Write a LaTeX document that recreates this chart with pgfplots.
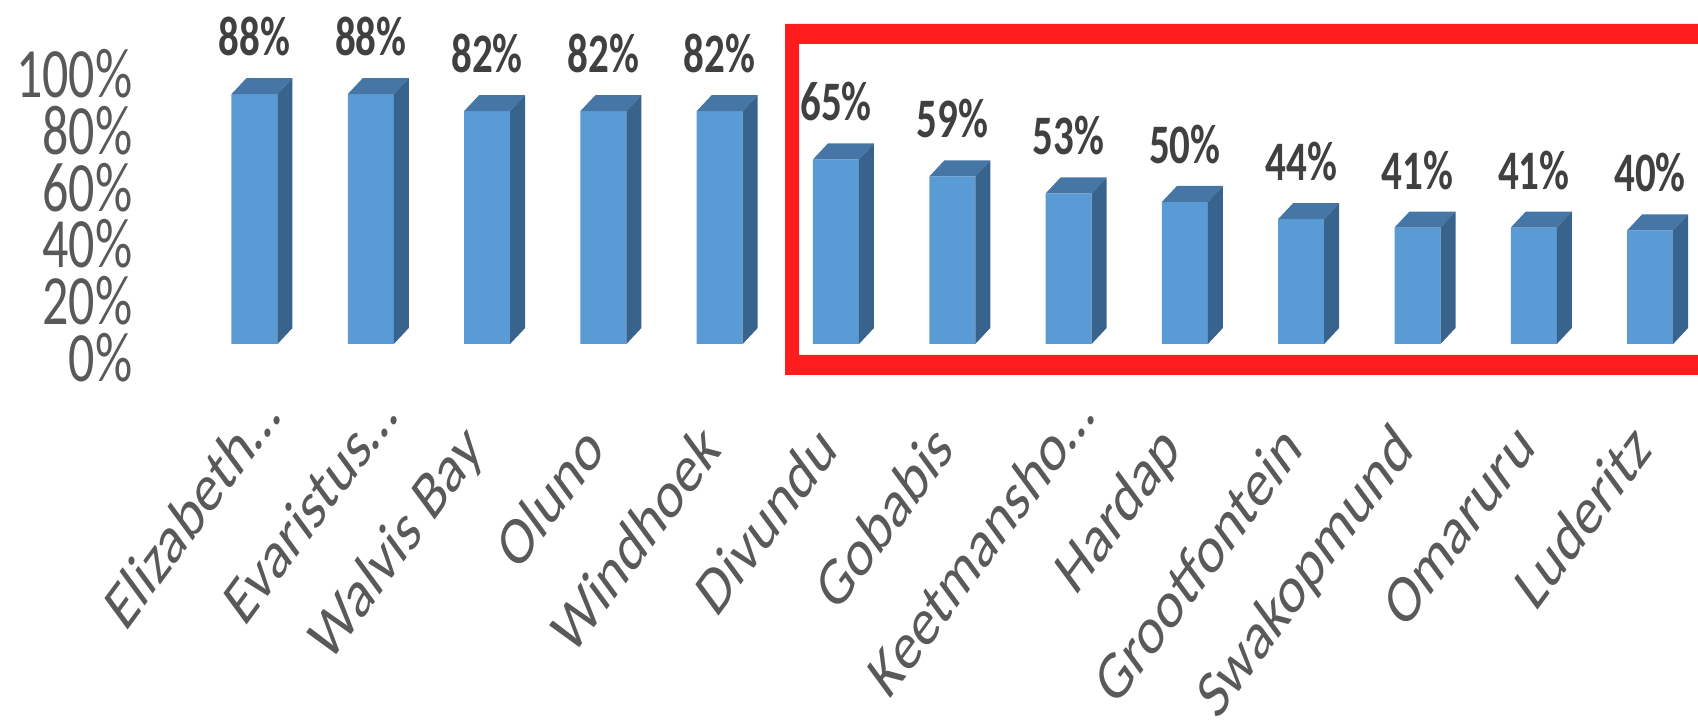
\documentclass[border=0pt]{standalone}
\usepackage{pgfplots}
\pgfplotsset{compat=1.18}
\usepackage{fontspec}
\setmainfont{Carlito}
\usepackage{graphicx}
\definecolor{frontc}{HTML}{5B9BD5}
\definecolor{topc}{HTML}{4676A6}
\definecolor{sidec}{HTML}{38638D}
\definecolor{axgray}{HTML}{595959}
\definecolor{lblc}{HTML}{404040}
\definecolor{boxred}{HTML}{FF1C1C}
\newcommand\xl[1]{\scalebox{1}[1.36]{\rotatebox{45}{#1}}}
\pgfdeclareplotmark{bar3d}{%
  \pgfmathsetlengthmacro\hh{\barval*1.42pt}%
  \pgfsetfillcolor{topc}%
  \pgfpathmoveto{\pgfpoint{-11.5pt}{0pt}}%
  \pgfpathlineto{\pgfpoint{11.5pt}{0pt}}%
  \pgfpathlineto{\pgfpoint{19pt}{8pt}}%
  \pgfpathlineto{\pgfpoint{-4pt}{8pt}}%
  \pgfpathclose
  \pgfusepath{fill}%
  \pgfsetfillcolor{sidec}%
  \pgfpathmoveto{\pgfpoint{11.5pt}{0pt}}%
  \pgfpathlineto{\pgfpoint{19pt}{8pt}}%
  \pgfpathlineto{\pgfpoint{19pt}{8pt-\hh}}%
  \pgfpathlineto{\pgfpoint{11.5pt}{-\hh}}%
  \pgfpathclose
  \pgfusepath{fill}%
}
\begin{document}
\begin{tikzpicture}
\begin{axis}[
  at={(98.17pt,192pt)}, anchor=south west,
  x=58.15pt, y=1.42pt,
  xmin=-0.5, xmax=12.5, ymin=0, ymax=100,
  clip=false,
  axis line style={draw=none},
  major tick length=0pt,
  xtick={0,...,12},
  xticklabels={\xl{Elizabeth\rlap{…}}, \xl{Evaristus\rlap{…}}, \xl{Walvis Bay}, \xl{Oluno}, \xl{Windhoek}, \xl{Divundu}, \xl{Gobabis}, \xl{Keetmansho\rlap{…}}, \xl{Hardap}, \xl{Grootfontein}, \xl{Swakopmund}, \xl{Omaruru}, \xl{Luderitz}},
  xticklabel style={anchor=north east, inner sep=0pt, font=\fontsize{25.5}{30}\selectfont, text=axgray, yshift=-37pt, xshift=2pt},
  ytick={0,20,...,100},
  yticklabel={\scalebox{1}[1.36]{\pgfmathprintnumber{\tick}\%}},
  yticklabel style={anchor=east, inner sep=0pt, xshift=-31.8pt, yshift=-6.8pt, font=\fontsize{26}{30}\selectfont, text=axgray},
  /pgf/number format/assume math mode=true,
]
\addplot[ybar, bar width=23pt, bar shift=0pt, fill=frontc, draw=none] table[x=x, y=y] {
x y
0 88
1 88
2 82
3 82
4 82
5 65
6 59
7 53
8 50
9 44
10 41
11 41
12 40
};
\addplot[only marks, mark=bar3d, visualization depends on={value \thisrow{y} \as \barval},
  point meta=y,
  nodes near coords={\scalebox{1}[1.36]{\pgfmathprintnumber{\pgfplotspointmeta}\%}},
  every node near coord/.append style={anchor=center, yshift=28.75pt, inner sep=0pt, font=\fontsize{20.5}{24}\selectfont\bfseries, text=lblc}
] table[x=x, y=y] {
x y
0 88
1 88
2 82
3 82
4 82
5 65
6 59
7 53
8 50
9 44
10 41
11 41
12 40
};
\end{axis}
\fill[boxred, even odd rule] (392.5pt,176.5pt) rectangle (900pt,352pt) (399.5pt,186.5pt) rectangle (880pt,342pt);
\pgfresetboundingbox
\useasboundingbox (0,0) rectangle (849pt,364pt);
\end{tikzpicture}
\end{document}
